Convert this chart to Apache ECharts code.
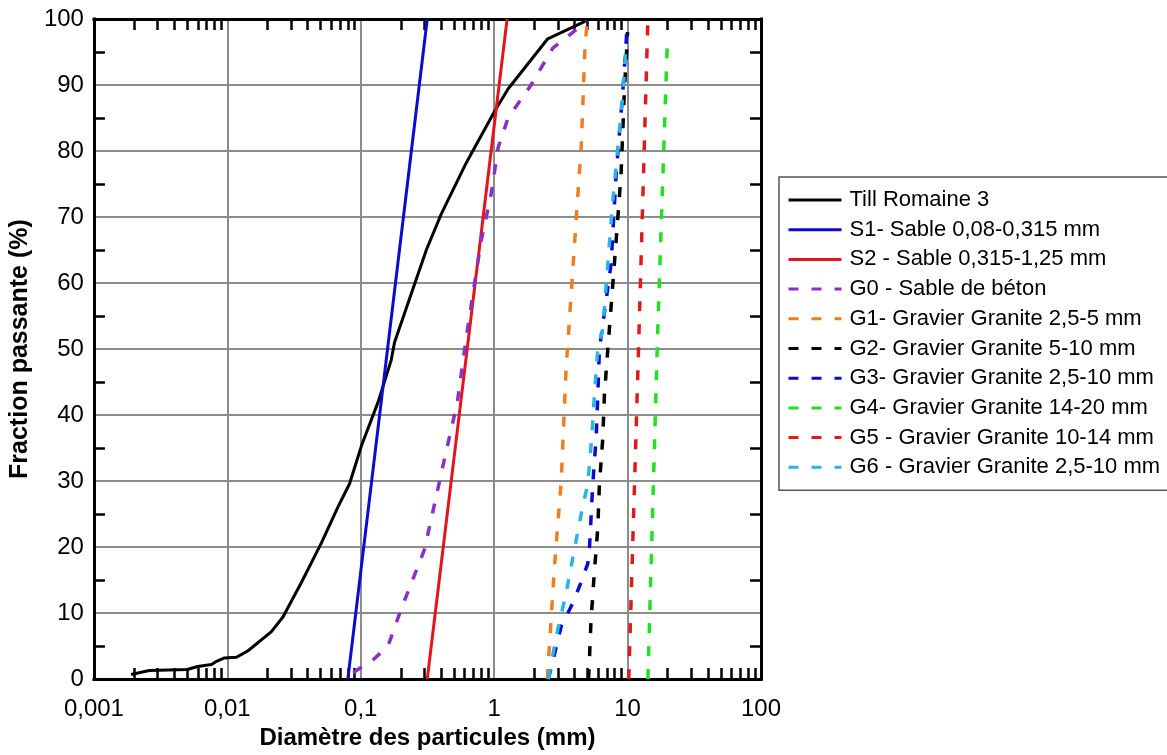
<!DOCTYPE html>
<html>
<head>
<meta charset="utf-8">
<script src="https://cdn.jsdelivr.net/npm/echarts@6/dist/echarts.min.js"></script>
<style>
html,body{margin:0;padding:0;background:#fff;}
#c{width:1167px;height:755px;}
</style>
</head>
<body>
<div id="c"></div>
<script>
// ---- tick labels ----
const xTickLabels = ['0,001', '0,01', '0,1', '1', '10', '100'];
const xMinorTicks = [
  0.002, 0.003, 0.004, 0.005, 0.006, 0.007, 0.008, 0.009,
  0.02, 0.03, 0.04, 0.05, 0.06, 0.07, 0.08, 0.09,
  0.2, 0.3, 0.4, 0.5, 0.6, 0.7, 0.8, 0.9,
  2, 3, 4, 5, 6, 7, 8, 9,
  20, 30, 40, 50, 60, 70, 80, 90
];

// ---- series names ----
const names = [
  'Till Romaine 3',
  'S1- Sable 0,08-0,315 mm',
  'S2 - Sable 0,315-1,25 mm',
  'G0 - Sable de béton',
  'G1- Gravier Granite 2,5-5 mm',
  'G2- Gravier Granite 5-10 mm',
  'G3- Gravier Granite 2,5-10 mm',
  'G4- Gravier Granite 14-20 mm',
  'G5 - Gravier Granite 10-14 mm',
  'G6 - Gravier Granite 2,5-10 mm'
];

// ---- data: [diameter (mm), fraction passante (%)] ----
const till = [
  [0.0019, 0.7], [0.0026, 1.3], [0.005, 1.45], [0.006, 1.9], [0.0076, 2.2],
  [0.0083, 2.7], [0.0095, 3.2], [0.0117, 3.3], [0.0143, 4.3], [0.0214, 7.2],
  [0.0261, 9.4], [0.0358, 14.6], [0.0506, 20.6], [0.0675, 26.1], [0.0824, 29.6],
  [0.101, 35.3], [0.135, 42], [0.169, 48.3], [0.179, 51], [0.31, 65],
  [0.40, 70.4], [0.617, 78.2], [1.0, 85.9], [1.27, 89.4], [2.52, 97.0],
  [4.75, 99.6], [5.0, 100]
];
const s1 = [[0.08, 0], [0.315, 100]];
const s2 = [[0.315, 0], [1.25, 100]];
const g0 = [
  [0.088, 1], [0.125, 3], [0.16, 5], [0.2, 10.5], [0.3, 19.6], [0.41, 32],
  [0.53, 42], [0.62, 52], [0.8, 66.5], [0.95, 73.5], [1.07, 80.5], [1.27, 85],
  [1.89, 90], [2.75, 95.6], [3.78, 97.8], [4.95, 99.7]
];
const g1 = [
  [2.5, 0], [2.83, 17], [3.18, 30], [3.46, 47], [4.1, 69], [4.5, 81],
  [4.8, 96], [5.0, 100]
];
const g2 = [
  [5.1, 0], [5.17, 2.8], [5.32, 9], [5.48, 12.5], [5.64, 16.5], [5.81, 19.5],
  [5.98, 23], [6.15, 29.5], [6.33, 33], [6.52, 36.5], [6.7, 43], [7.11, 50],
  [7.96, 62.9], [8.93, 76.4], [9.47, 89.4], [9.91, 96.4], [10, 98]
];
const g3 = [
  [2.55, 0], [3.18, 8], [3.88, 11.5], [4.45, 14.5], [5.03, 17.5], [5.17, 19.5],
  [5.48, 29.5], [5.81, 36.5], [5.98, 43], [6.15, 50], [7.52, 62.9], [8.2, 76.4],
  [9.2, 88.9], [9.75, 96.4], [9.85, 98]
];
const g4 = [[14.2, 0], [16.8, 52.4], [19.9, 97]];
const g5 = [[10.2, 0], [12.2, 53], [14.2, 100]];
const g6 = [
  [2.55, 0], [2.92, 6.5], [3.46, 13], [3.98, 19.5], [4.61, 26.2], [5.03, 29.5],
  [5.38, 36.5], [5.64, 43], [5.98, 50], [6.52, 53], [7.11, 63], [7.74, 72.4],
  [8.44, 80.4], [9.2, 88.4], [9.75, 96.4]
];

const FONT = "'Liberation Sans', Arial, sans-serif";

function mk(name, data, color, dashed) {
  return {
    name: name,
    type: 'line',
    data: data,
    xAxisIndex: 0,
    yAxisIndex: 0,
    showSymbol: false,
    symbol: 'none',
    smooth: false,
    clip: false,
    animation: false,
    itemStyle: { color: color },
    lineStyle: { color: color, width: dashed ? 3.5 : 3, type: dashed ? [10, 13] : 'solid' },
    emphasis: { disabled: true }
  };
}

const series = [
  mk(names[0], till, '#000000', false),
  mk(names[1], s1, '#0a0ad2', false),
  mk(names[2], s2, '#e5141c', false),
  mk(names[3], g0, '#8b2fc9', true),
  mk(names[4], g1, '#ef7d22', true),
  mk(names[5], g2, '#000000', true),
  mk(names[6], g3, '#0a0ad2', true),
  mk(names[7], g4, '#22e022', true),
  mk(names[8], g5, '#e01a1a', true),
  mk(names[9], g6, '#25b6e6', true)
];

const tickStyle = { color: '#000', width: 2.5 };
const frameLine = { show: true, lineStyle: { color: '#000', width: 3, cap: 'square' } };

const option = {
  animation: false,
  backgroundColor: '#fff',
  textStyle: { fontFamily: FONT },
  grid: { left: 93, top: 19, width: 668, height: 668, containLabel: false },
  legend: {
    orient: 'vertical',
    left: 779,
    top: 177,
    data: names,
    itemWidth: 53,
    itemHeight: 14,
    itemGap: 7.7,
    padding: [12, 40, 12, 8],
    borderColor: '#555',
    borderWidth: 1.5,
    selectedMode: false,
    itemStyle: { opacity: 0, borderWidth: 0 },
    lineStyle: { width: 3 },
    textStyle: { fontFamily: FONT, fontSize: 22, color: '#000', lineHeight: 22, padding: [0, 0, 0, 3] }
  },
  xAxis: [
    {
      type: 'log', logBase: 10, min: 0.001, max: 100, position: 'bottom',
      axisLine: frameLine,
      axisTick: { show: false },
      axisLabel: {
        fontFamily: FONT, fontSize: 24, color: '#000', margin: 18,
        formatter: function (v) {
          const i = Math.round(Math.log10(v)) + 3;
          return xTickLabels[i] !== undefined ? xTickLabels[i] : '';
        }
      },
      splitLine: { show: true, lineStyle: { color: '#8c8c8c', width: 2 } },
      name: 'Diamètre des particules (mm)',
      nameLocation: 'middle',
      nameGap: 42,
      nameTextStyle: { fontFamily: FONT, fontSize: 24, fontWeight: 'bold', color: '#000' }
    },
    {
      type: 'log', logBase: 10, min: 0.001, max: 100, position: 'bottom',
      axisLine: { show: false },
      axisLabel: { show: false },
      splitLine: { show: false },
      axisTick: { show: true, inside: true, length: 11, customValues: xMinorTicks, lineStyle: tickStyle }
    },
    {
      type: 'log', logBase: 10, min: 0.001, max: 100, position: 'top',
      axisLine: frameLine,
      axisLabel: { show: false },
      splitLine: { show: false },
      axisTick: { show: true, inside: true, length: 11, customValues: xMinorTicks, lineStyle: tickStyle }
    }
  ],
  yAxis: [
    {
      type: 'value', min: 0, max: 100, interval: 10, position: 'left',
      axisLine: frameLine,
      axisTick: { show: false, inside: true },
      minorTick: { show: true, splitNumber: 2, length: 11, lineStyle: tickStyle },
      axisLabel: { fontFamily: FONT, fontSize: 24, color: '#000', margin: 10 },
      splitLine: { show: true, lineStyle: { color: '#8c8c8c', width: 2 } },
      name: 'Fraction passante (%)',
      nameLocation: 'middle',
      nameGap: 52,
      nameTextStyle: { fontFamily: FONT, fontSize: 25, fontWeight: 'bold', color: '#000' }
    },
    {
      type: 'value', min: 0, max: 100, interval: 10, position: 'right',
      axisLine: frameLine,
      axisTick: { show: false, inside: true },
      minorTick: { show: true, splitNumber: 2, length: 11, lineStyle: tickStyle },
      axisLabel: { show: false },
      splitLine: { show: false }
    }
  ],
  series: series
};

const chart = echarts.init(document.getElementById('c'), null, { renderer: 'canvas' });
chart.setOption(option);
</script>
</body>
</html>
